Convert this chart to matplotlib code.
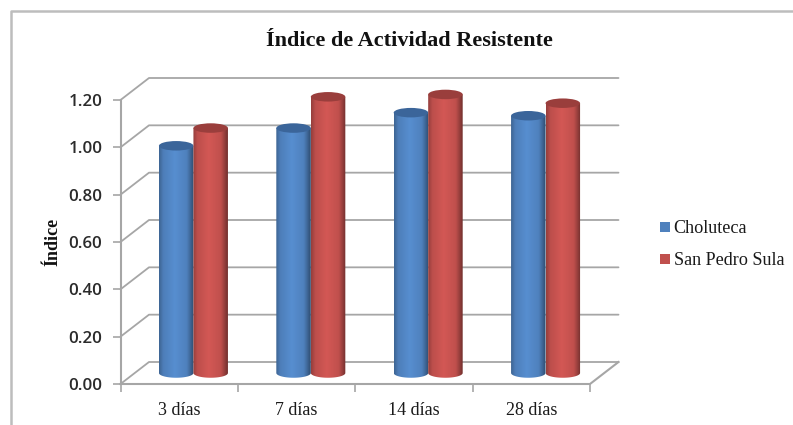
import numpy as np
import matplotlib
matplotlib.use("Agg")
import matplotlib.pyplot as plt
from matplotlib.lines import Line2D
from matplotlib.patches import Ellipse, PathPatch, Rectangle
from matplotlib.path import Path

categories = ["3 días", "7 días", "14 días", "28 días"]
choluteca = [0.96, 1.035, 1.10, 1.087]
san_pedro = [1.035, 1.167, 1.177, 1.14]
yticks = [0.0, 0.2, 0.4, 0.6, 0.8, 1.0, 1.2]

W, H = 793, 425
SERIF = "Liberation Serif"

# the front plane of the fake 3d box, in pixels
X0, X1, Y0, Y1 = 120.5, 590, 384, 100
DX_PX, DY_PX = 28.5, 22
cat_w = (X1 - X0) / len(categories)
dx = DX_PX / cat_w
dy = DY_PX / (Y0 - Y1) * 1.2
bar_w = 34.5 / cat_w
ell_h = 9.5 / (Y0 - Y1) * 1.2

fig = plt.figure(figsize=(W / 100, H / 100), dpi=100)
ax = fig.add_axes([X0 / W, 1 - Y0 / H, (X1 - X0) / W, (Y0 - Y1) / H])
ax.set_xlim(0, len(categories))
ax.set_ylim(0, 1.2)
ax.patch.set_alpha(0)
for s in ax.spines.values():
    s.set_visible(False)

# chart frame, cut off by the page on the right and at the bottom
fig.add_artist(Line2D([10.5 / W, 10.5 / W, 1], [0, 1 - 10.5 / H, 1 - 10.5 / H],
                      color="#bdbdbd", lw=1.8, transform=fig.transFigure))

GRID = "#a6a6a6"
for v in yticks:
    ax.plot([0, dx, len(categories) + dx], [v, v + dy, v + dy], color=GRID, lw=1.3,
            clip_on=False, zorder=1, solid_capstyle="round")
ax.plot([0, 0], [0, 1.2], color=GRID, lw=1.5, clip_on=False, zorder=1)
ax.plot([0, len(categories), len(categories) + dx], [0, 0, dy], color=GRID, lw=1.5,
        clip_on=False, zorder=1)

ax.set_xticks(range(len(categories) + 1))
ax.set_xticklabels([])
ax.set_yticks(yticks)
ax.set_yticklabels([f"{v:.2f}" for v in yticks], fontsize=12.2,
                   family="Open Sans", fontweight="semibold", color="#2b2b2b")
ax.tick_params(axis="both", length=5.5, width=1.2, color=GRID)
ax.tick_params(axis="y", pad=7.5)
for i, c in enumerate(categories):
    ax.text(i + 0.5, -0.11, c, ha="center", va="center", family=SERIF, fontsize=13,
            color="#1a1a1a")


def cylinder(xc, val, base, top_col, z):
    left, right = xc - bar_w / 2, xc + bar_w / 2
    y_base = dy / 2
    y_top = val + dy / 2
    t = np.linspace(0, np.pi, 40)
    # outline: down the left side, round the bottom, up the right side
    xs = np.r_[left, xc - bar_w / 2 * np.cos(t), right]
    ys = np.r_[y_top, y_base - ell_h / 2 * np.sin(t), y_top]
    body = PathPatch(Path(np.c_[xs, ys]), fc="none", ec="none", zorder=z, clip_on=False)
    ax.add_patch(body)
    # shading across the cylinder, dark at the edges
    pos = np.linspace(0, 1, 64)
    shade = np.interp(pos, [0, 0.12, 0.45, 0.8, 1], [0.78, 0.98, 1.1, 1.0, 0.6])
    img = np.array(matplotlib.colors.to_rgb(base))[None, None, :] * shade[None, :, None]
    im = ax.imshow(np.clip(img, 0, 1), extent=(left, right, y_base - ell_h, y_top),
                   aspect="auto", zorder=z, interpolation="bilinear")
    im.set_clip_path(body)
    im.set_clip_box(fig.bbox)
    ax.add_patch(Ellipse((xc, y_top), bar_w, ell_h, fc=top_col, ec="none", zorder=z + 0.1,
                         clip_on=False))


for i in range(len(categories)):
    cylinder(i + 0.5 + dx / 2 - bar_w / 2, choluteca[i], "#4f81bd", "#3b659a", 3 + i)
    cylinder(i + 0.5 + dx / 2 + bar_w / 2, san_pedro[i], "#c0504d", "#9a3e3c", 3.5 + i)
ax.set_xlim(0, len(categories))
ax.set_ylim(0, 1.2)

# figure level text and legend, positioned in pixels
fig.text(409 / W, 1 - 40.5 / H, "Índice de Actividad Resistente", ha="center", va="center",
         family=SERIF, fontweight="bold", fontsize=16, color="#111111")
fig.text(53 / W, 1 - 242 / H, "Índice", rotation=90, ha="center", va="center",
         family=SERIF, fontweight="bold", fontsize=13, color="#111111")
for name, col, y in [("Choluteca", "#4f81bd", 227), ("San Pedro Sula", "#c0504d", 259)]:
    fig.add_artist(Rectangle((659.5 / W, 1 - (y + 5) / H), 10.5 / W, 10.5 / H, fc=col, ec="none",
                             transform=fig.transFigure))
    fig.text(673.5 / W, 1 - (y + 1.5) / H, name, ha="left", va="center", family=SERIF,
             fontsize=13.1, color="#1a1a1a")

fig.savefig("out.png", dpi=100)
